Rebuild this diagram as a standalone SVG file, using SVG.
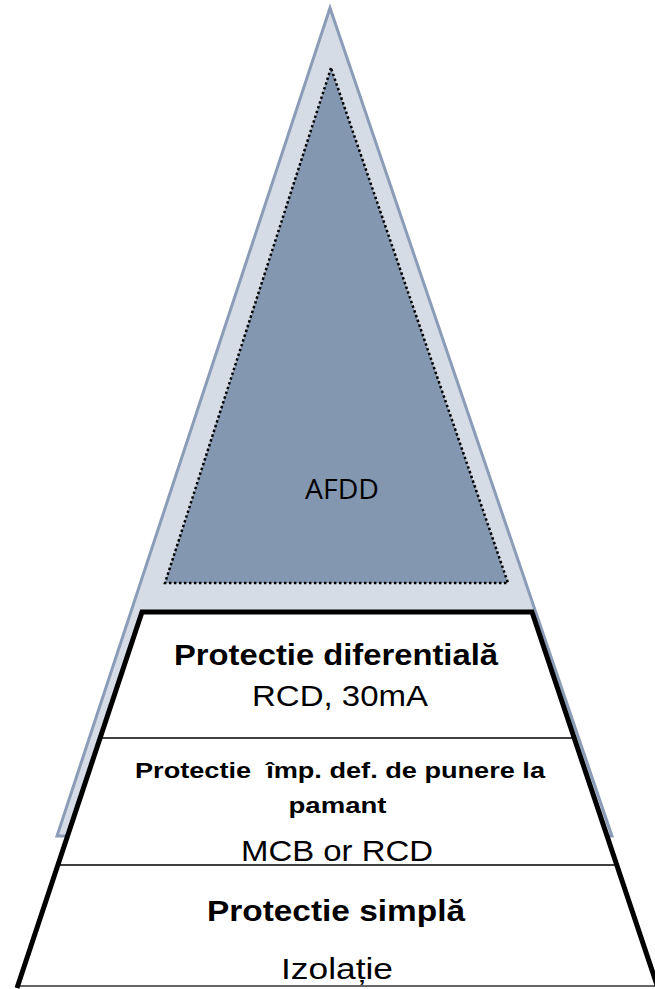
<svg xmlns="http://www.w3.org/2000/svg" width="655" height="989" viewBox="0 0 655 989">
  <style>
    .outer { fill: #d5dce6; stroke: #8a9cb6; stroke-width: 3; stroke-linejoin: miter; }
    .inner { fill: #8497b0; stroke: #000; stroke-width: 2.5; stroke-dasharray: 2.5 2.5; }
    .base { fill: #fff; stroke: none; }
    .edge { fill: none; stroke: #000; stroke-width: 5; stroke-linejoin: miter; }
    .divider { stroke: #000; stroke-width: 1.6; }
    .floor { stroke: #333; stroke-width: 1.6; }
    .t { font-family: "Liberation Sans", Arial, sans-serif; fill: #000; text-anchor: middle; }
    .b { font-weight: bold; }
    .label { font-family: "Open Sans", "Liberation Sans", sans-serif; fill: #000; text-anchor: middle; }
  </style>

  <!-- background pyramid -->
  <g id="pyramid-outline">
    <polygon class="outer" points="330,8 57,836 612,836"/>
  </g>

  <!-- AFDD apex -->
  <g id="afdd">
    <polygon class="inner" points="331,68 165,583 508,583"/>
    <text class="label" x="342" y="499" font-size="28" textLength="74" lengthAdjust="spacingAndGlyphs">AFDD</text>
  </g>

  <!-- lower protection tiers -->
  <g id="tiers">
    <polygon class="base" points="142,612 532,612 658,986 17,986"/>
    <line class="divider" x1="101" y1="738" x2="574" y2="738"/>
    <line class="divider" x1="59" y1="865" x2="615" y2="865"/>
    <line class="floor" x1="17" y1="986" x2="655" y2="986"/>
    <polyline class="edge" points="17,988 142,612 532,612 658,988"/>
  </g>

  <g id="tier-rcd">
    <text class="t b" x="336" y="665" font-size="30" textLength="324" lengthAdjust="spacingAndGlyphs">Protectie diferentială</text>
    <text class="t" x="340" y="706" font-size="30" textLength="176" lengthAdjust="spacingAndGlyphs">RCD, 30mA</text>
  </g>

  <g id="tier-earth-fault">
    <text class="t b" x="340" y="778" font-size="22" textLength="410" lengthAdjust="spacingAndGlyphs" style="white-space:pre">Protectie  împ. def. de punere la</text>
    <text class="t b" x="337.5" y="813" font-size="22" textLength="98" lengthAdjust="spacingAndGlyphs">pamant</text>
    <text class="t" x="337" y="861" font-size="29" textLength="192" lengthAdjust="spacingAndGlyphs">MCB or RCD</text>
  </g>

  <g id="tier-basic">
    <text class="t b" x="336" y="921" font-size="29" textLength="258" lengthAdjust="spacingAndGlyphs">Protectie simplă</text>
    <text class="t" x="337" y="979" font-size="30" textLength="112" lengthAdjust="spacingAndGlyphs">Izolație</text>
  </g>
</svg>
